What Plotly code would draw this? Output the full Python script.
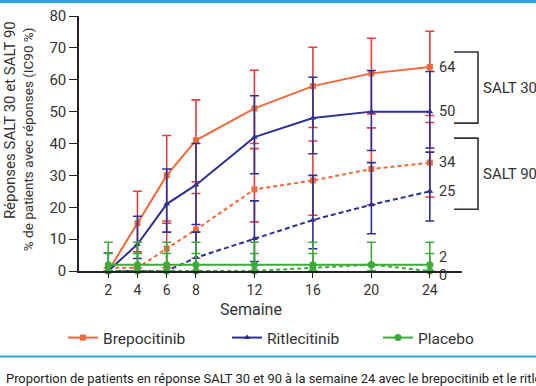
import plotly.graph_objects as go

weeks = [2, 4, 6, 8, 12, 16, 20, 24]
x_ticks = [2, 4, 6, 8, 12, 16, 20, 24]
y_ticks = [0, 10, 20, 30, 40, 50, 60, 70, 80]

# Brepocitinib
brepo30 = [0, 15, 30, 41, 51, 58, 62, 64]
brepo30_hi = [0, 25, 42.5, 53.7, 63, 70.2, 73, 75.2]
brepo30_lo = [0, 6, 15.7, 28, 40, 45, 49.3, 48.8]
brepo90 = [1, 1, 7, 13, 25.6, 28.4, 32, 34]
brepo90_hi = [1, 1, 15, 24.3, 38.4, 40.8, 44.9, 46.6]
brepo90_lo = [1, 1, 1, 4, 15.4, 17.5, 20.8, 23.2]

# Ritlecitinib
ritle30 = [0, 8.4, 21, 27, 42, 48, 50, 50]
ritle30_hi = [5.6, 17.2, 32, 40, 55, 60.8, 62.9, 62.6]
ritle30_lo = [0, 3.9, 12.2, 14.6, 30.5, 36.8, 37.8, 38.6]
ritle90 = [0, 0, 0, 4.2, 10.2, 16, 20.8, 25]
ritle90_hi = [0, 0, 0, 12.2, 22, 30, 34, 37.3]
ritle90_lo = [0, 0, 0, 0, 3, 7, 11.7, 15.7]

# Placebo
plac30 = [2, 2, 2, 2, 2, 2, 2, 2]
plac30_hi = [9, 9, 9, 9, 9, 9, 9, 9]
plac30_lo = [0, 0, 0, 0, 0, 0, 0, 0]
plac90 = [0, 0, 0, 0, 0, 1, 2, 0]
plac90_hi = [5.5, 5.5, 5.5, 5.5, 5.5, 5.5, 2, 5.5]
plac90_lo = [0, 0, 0, 0, 0, 0, 0, 0]

end_labels = ["64", "50", "34", "25", "2", "0"]
end_values = [64, 50, 34, 25, 2, 0]
end_shift = [0, 0, 0, 0, 7, -4]

ORANGE = "#F2683A"
RED = "#E63E3E"
NAVY = "#2E3192"
GREEN = "#3DAA3A"
FONT = "Roboto"
W, H = 536, 386


def err(v, hi, lo, color):
    return dict(type="data", symmetric=False,
                array=[h - a for h, a in zip(hi, v)],
                arrayminus=[a - l for a, l in zip(v, lo)],
                color=color, thickness=1.6, width=4.5)


fig = go.Figure()
series = [
    ("Brepocitinib", brepo30, brepo30_hi, brepo30_lo, ORANGE, RED, "square", "solid", "legend", 6),
    ("Brepocitinib", brepo90, brepo90_hi, brepo90_lo, ORANGE, RED, "square", "4px,3px", None, 6),
    ("Ritlecitinib", ritle30, ritle30_hi, ritle30_lo, NAVY, NAVY, "triangle-up", "solid", "legend2", 6),
    ("Ritlecitinib", ritle90, ritle90_hi, ritle90_lo, NAVY, NAVY, "triangle-up", "5px,3px", None, 6),
    ("Placebo", plac30, plac30_hi, plac30_lo, GREEN, GREEN, "circle", "solid", "legend3", 7),
    ("Placebo", plac90, plac90_hi, plac90_lo, GREEN, GREEN, "circle", "4px,3px", None, 7),
]
for name, v, hi, lo, c, ec, sym, dash, leg, ms in series:
    kw = dict(legend=leg, showlegend=True) if leg else dict(showlegend=False)
    fig.add_trace(go.Scatter(
        x=weeks, y=v, name=name, mode="lines+markers",
        line=dict(color=c, width=2, dash=dash),
        marker=dict(symbol=sym, size=ms, color=c),
        error_y=err(v, hi, lo, ec),
        cliponaxis=False, hoverinfo="skip", **kw,
    ))

for t, val, s in zip(end_labels, end_values, end_shift):
    fig.add_annotation(x=24, y=val, xref="x", yref="y", text=t, showarrow=False,
                       xanchor="left", xshift=7, yshift=s,
                       font=dict(family=FONT, size=14.5, color="#333"))

PL, PR, PT, PB = 79, 462, 16, 270.7


def px2x(px):
    return (px - PL) / (PR - PL)


def py2y(py):
    return (PB - py) / (PB - PT)


for top, bot, label in [(52, 123, "SALT 30"), (138, 209, "SALT 90")]:
    fig.add_shape(type="path", xref="paper", yref="paper",
                  path=f"M {px2x(454)},{py2y(top)} L {px2x(478)},{py2y(top)} L {px2x(478)},{py2y(bot)} L {px2x(454)},{py2y(bot)}",
                  line=dict(color="#333", width=1.6))
    fig.add_annotation(x=px2x(481), y=py2y((top + bot) / 2), xref="paper", yref="paper",
                       text=label, showarrow=False, xanchor="left", yanchor="middle",
                       font=dict(family=FONT, size=15, color="#333"))

# axis titles
fig.add_annotation(x=px2x(10), y=py2y(120), xref="paper", yref="paper",
                   text="Réponses SALT 30 et SALT 90", textangle=-90, showarrow=False,
                   xanchor="center", yanchor="middle", font=dict(family=FONT, size=15, color="#333"))
fig.add_annotation(x=px2x(28), y=py2y(139), xref="paper", yref="paper",
                   text="% de patients avec réponses (IC90 %)", textangle=-90, showarrow=False,
                   xanchor="center", yanchor="middle", font=dict(family=FONT, size=13.5, color="#333"))
fig.add_annotation(x=px2x(251), y=py2y(309), xref="paper", yref="paper",
                   text="Semaine", showarrow=False, xanchor="center", yanchor="middle",
                   font=dict(family=FONT, size=16, color="#333"))

# blue rules
fig.add_shape(type="rect", xref="paper", yref="paper", x0=px2x(0), x1=px2x(536),
              y0=py2y(0), y1=py2y(3), line=dict(width=0), fillcolor="#2AA7E1")
fig.add_shape(type="line", xref="paper", yref="paper", x0=px2x(0), x1=px2x(536),
              y0=py2y(356), y1=py2y(356), line=dict(color="#2AA7E1", width=2))

fig.add_annotation(x=px2x(4), y=py2y(378), xref="paper", yref="paper",
                   text="Proportion de patients en réponse SALT 30 et 90 à la semaine 24 avec le brepocitinib et le ritlecitinib",
                   showarrow=False, xanchor="left", yanchor="middle",
                   font=dict(family=FONT, size=12.9, color="#222"))


def leg(px):
    return dict(orientation="h", x=px / W, y=1 - 338 / H, xanchor="left", yanchor="middle",
                xref="container", yref="container",
                font=dict(family=FONT, size=15.5, color="#333"), bgcolor="rgba(0,0,0,0)")


fig.update_layout(
    width=W, height=H,
    margin=dict(l=PL, r=W - PR, t=PT, b=H - PB, autoexpand=False),
    paper_bgcolor="white", plot_bgcolor="white",
    font=dict(family=FONT, size=13, color="#333"),
    showlegend=True, hovermode=False,
    legend=leg(63), legend2=leg(227), legend3=leg(378),
)
fig.update_xaxes(range=[0, 26.2], tickvals=x_ticks, ticks="outside", ticklen=5,
                 showline=True, linecolor="#222", linewidth=1.5, showgrid=False, zeroline=False,
                 tickfont=dict(family=FONT, size=14, color="#333"), tickcolor="#222")
fig.update_yaxes(range=[0, 80], tickvals=y_ticks, ticks="outside", ticklen=8,
                 showline=True, linecolor="#222", linewidth=1.5, showgrid=False, zeroline=False,
                 tickfont=dict(family=FONT, size=15, color="#333"), tickcolor="#222")

fig.write_html("out.html", config={"displayModeBar": False},
               post_script="document.body.style.margin='0';document.body.style.overflow='hidden';")
